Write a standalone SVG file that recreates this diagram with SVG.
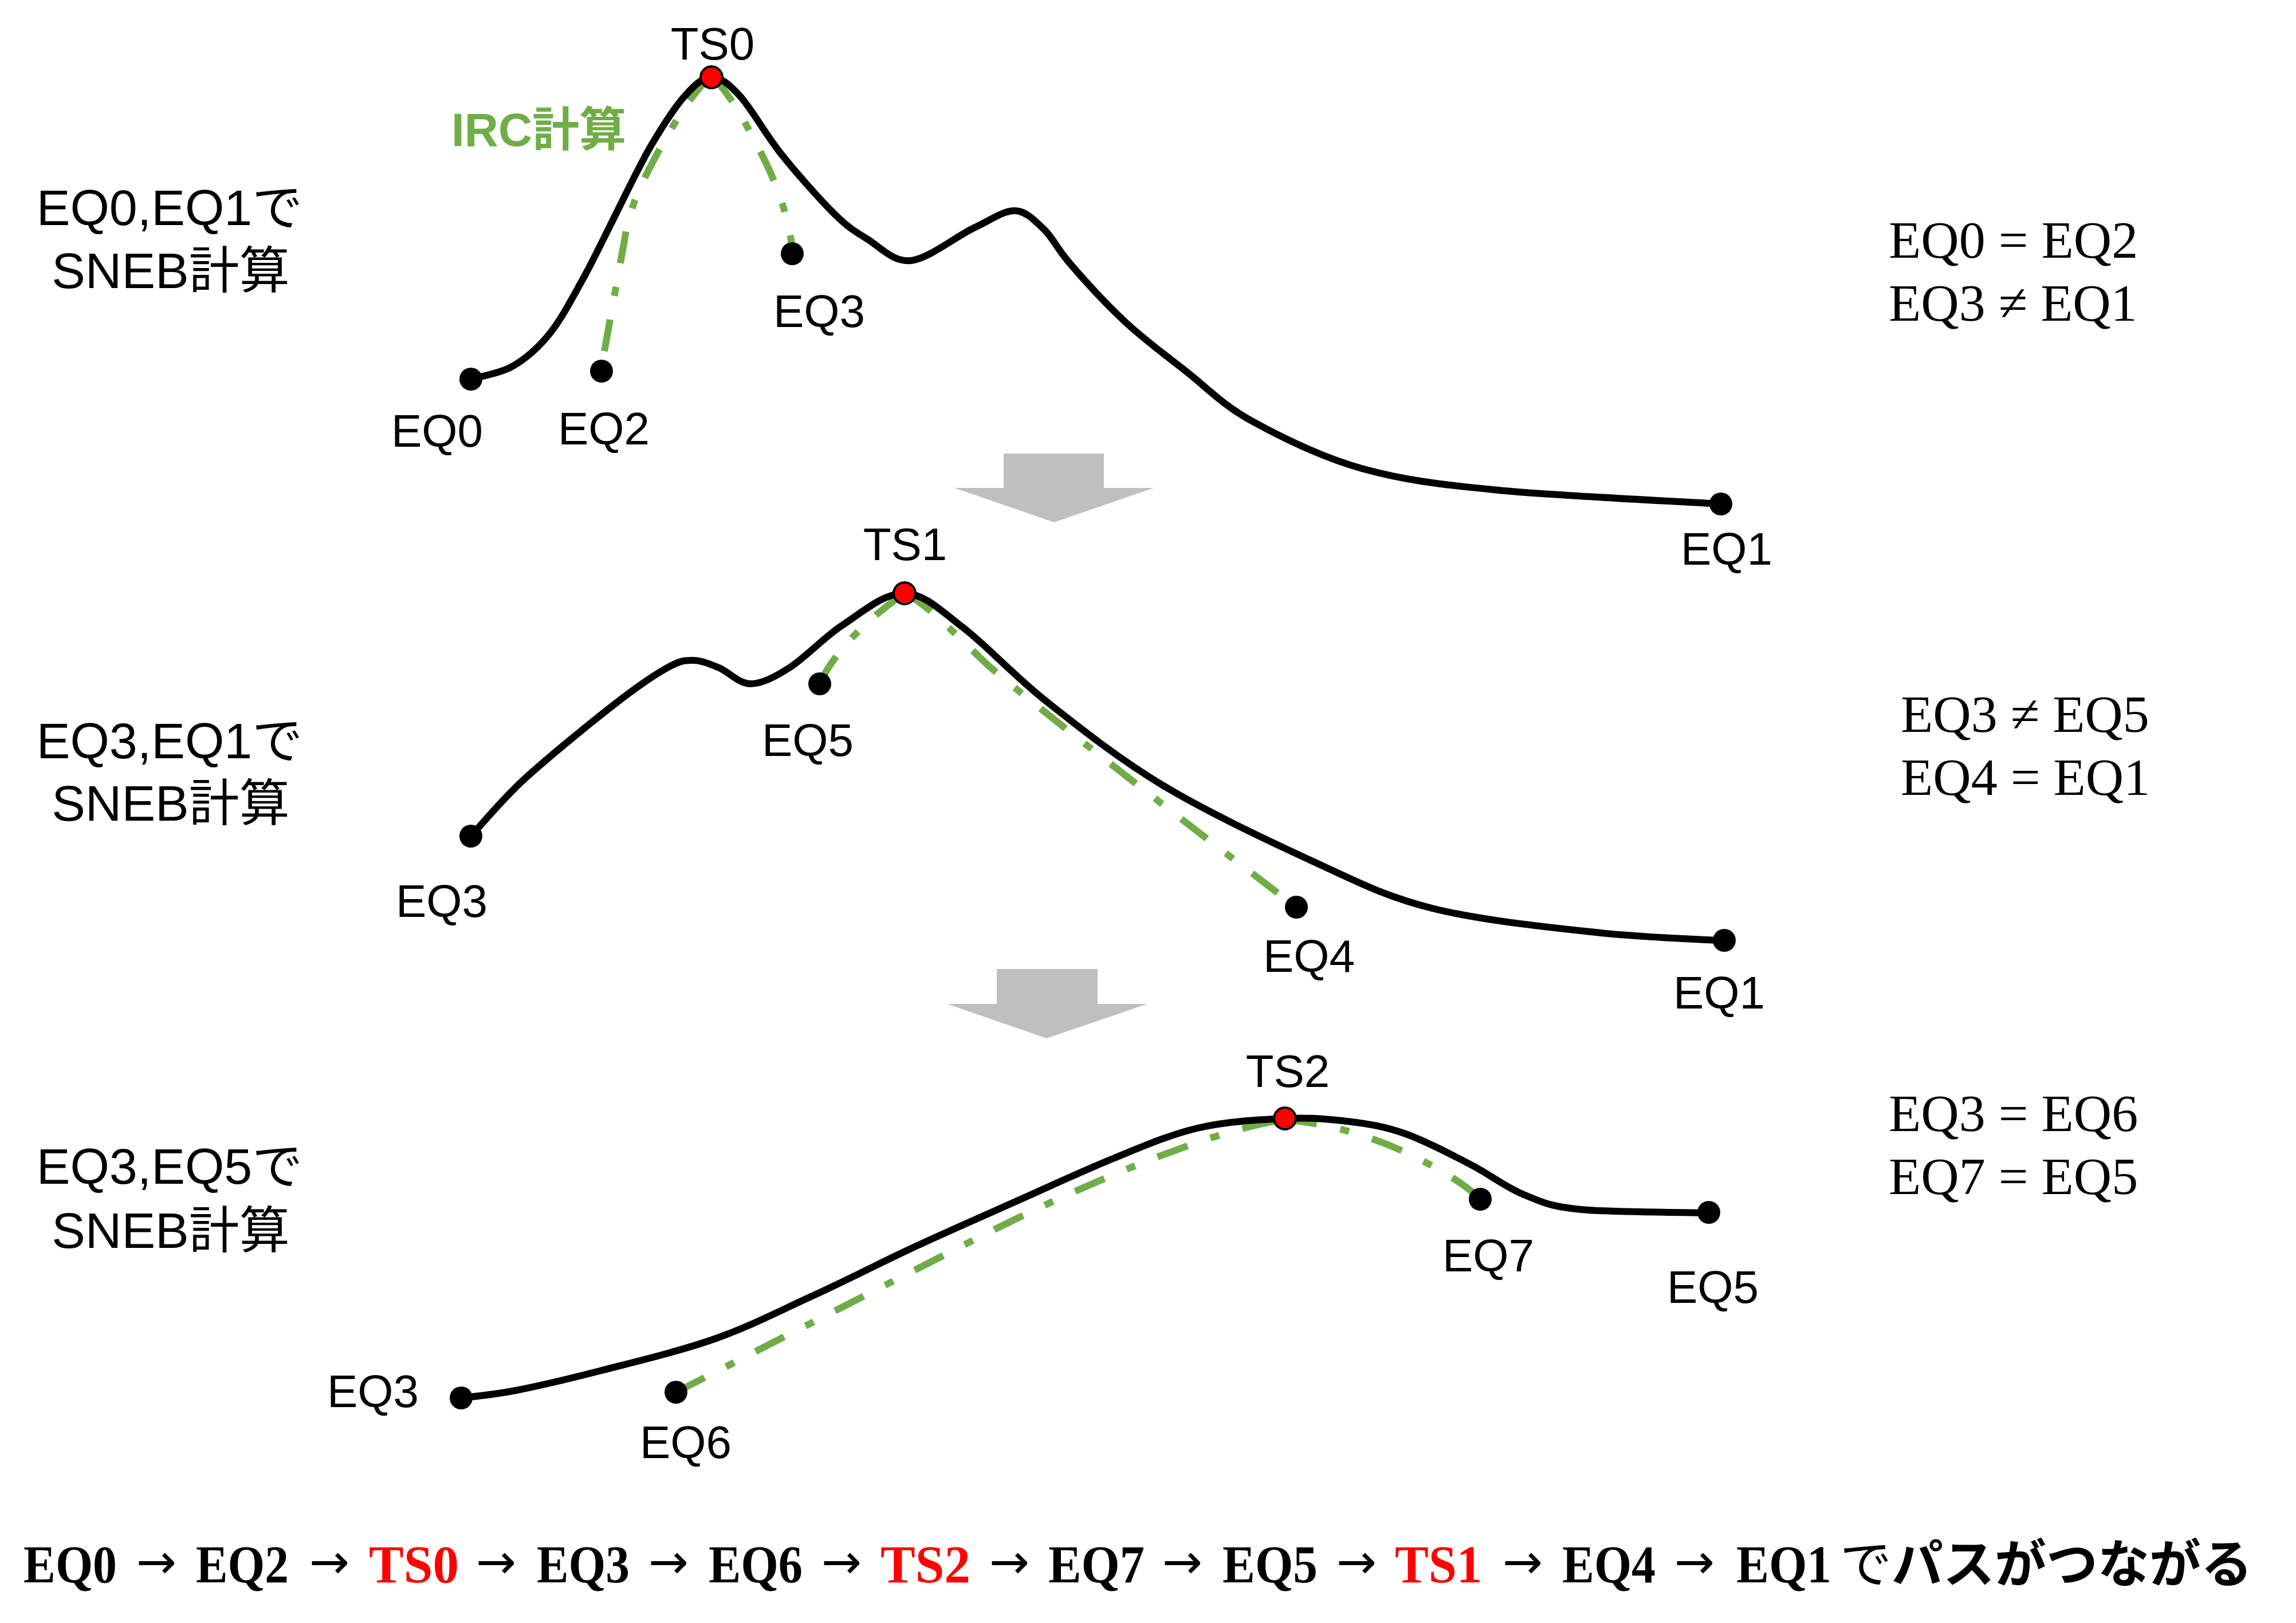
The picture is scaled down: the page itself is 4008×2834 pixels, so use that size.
<svg xmlns="http://www.w3.org/2000/svg" width="4008" height="2834" viewBox="0 0 4008 2834">
<style>
.curve{fill:none;stroke:#000;stroke-width:12;stroke-linecap:round;stroke-linejoin:round}
.irc{fill:none;stroke:#70AD47;stroke-width:12;stroke-dasharray:56 42 16 42}
.eq{fill:#000}
.ts{fill:#FF0000;stroke:#000;stroke-width:4}
.lbl{font-family:"Liberation Sans","Noto Sans CJK JP",Arial,sans-serif;font-size:80px;fill:#000;text-anchor:middle}
.side{font-family:"Liberation Sans","Noto Sans CJK JP",Arial,sans-serif;font-size:88px;fill:#000;text-anchor:middle}
.rel{font-family:"Liberation Serif","Times New Roman",serif;font-size:92px;fill:#000}
.arrow{fill:#BFBFBF}
.path{font-family:"Liberation Serif","Times New Roman",serif;font-size:94px;font-weight:bold;fill:#000}
.to{font-family:"DejaVu Sans",sans-serif;font-size:84px;fill:#000;text-anchor:middle}
.red{fill:#FF0000}
.jp{font-family:"Noto Sans CJK JP",sans-serif;font-size:90px;fill:#000}
</style>
<rect width="4008" height="2834" fill="#fff"/>

<g id="connectors">
  <!-- panel 1 -->
  <path class="irc" d="M1242,135 C1215,150 1170,225 1140,282 C1112,335 1098,370 1090,420 L1052,630"/>
  <path class="irc" d="M1242,135 C1265,150 1300,210 1330,270 C1355,320 1375,370 1384,440"/>
  <path class="curve" d="M822,662 C834,658 871,653 894,640 C917,627 940,607 960,582 C980,557 997,524 1016,490 C1035,456 1052,420 1072,380 C1092,340 1118,285 1139,250 C1160,215 1178,187 1195,168 C1212,149 1226,135 1242,135 C1258,135 1272,146 1292,168 C1312,190 1336,234 1363,268 C1390,302 1430,347 1455,372 C1480,397 1492,404 1515,418 C1537,432 1559,458 1590,455 C1621,452 1670,412 1700,398 C1730,384 1751,368 1771,368 C1791,368 1806,385 1822,400 C1838,415 1843,431 1866,458 C1889,485 1928,528 1962,560 C1996,592 2033,619 2070,648 C2107,677 2134,707 2185,735 C2236,763 2305,798 2377,818 C2449,838 2511,846 2616,856 C2721,866 2939,876 3004,880"/>
  <!-- panel 2 -->
  <path class="irc" d="M1431,1194 C1450,1150 1500,1090 1579,1036"/>
  <path class="irc" d="M1579,1036 C1615,1052 1660,1100 1724,1161 C1800,1228 2100,1460 2263,1584"/>
  <path class="curve" d="M822,1460 C838,1443 876,1396 918,1358 C960,1320 1030,1263 1071,1231 C1112,1199 1140,1180 1163,1167 C1186,1154 1194,1153 1209,1153 C1224,1153 1238,1159 1255,1166 C1272,1173 1290,1194 1310,1194 C1330,1194 1351,1183 1378,1166 C1405,1149 1437,1114 1470,1092 C1504,1070 1543,1035 1579,1036 C1615,1037 1643,1067 1684,1098 C1725,1130 1769,1179 1827,1225 C1885,1271 1953,1325 2031,1372 C2109,1419 2218,1470 2296,1506 C2374,1542 2420,1566 2500,1586 C2580,1606 2691,1618 2776,1627 C2861,1637 2971,1640 3010,1643"/>
  <!-- panel 3 -->
  <path class="irc" d="M1180,2431 L1700,2165 C1850,2088 2100,1975 2243,1955"/>
  <path class="irc" d="M2243,1955 C2320,1962 2400,1985 2470,2020 C2520,2045 2560,2070 2584,2094"/>
  <path class="curve" d="M805,2441 C821,2439 859,2436 900,2428 C941,2420 992,2408 1050,2393 C1108,2378 1188,2359 1250,2337 C1312,2315 1365,2287 1420,2262 C1475,2237 1523,2212 1580,2185 C1637,2158 1704,2129 1764,2102 C1825,2075 1889,2045 1943,2023 C1997,2001 2040,1982 2090,1970 C2140,1958 2199,1955 2243,1953 C2287,1951 2317,1954 2352,1958 C2387,1962 2418,1967 2454,1980 C2490,1993 2536,2017 2570,2035 C2604,2053 2628,2073 2660,2086 C2692,2099 2706,2107 2760,2112 C2814,2117 2946,2117 2983,2118"/>
</g>

<g id="step-arrows">
  <polygon class="arrow" points="1752,792 1927,792 1927,852 2014,852 1840,912 1666,852 1752,852"/>
  <polygon class="arrow" points="1740,1692 1916,1692 1916,1753 2003,1753 1827,1813 1653,1753 1740,1753"/>
</g>

<!-- panel 1 nodes -->
<g id="p1-EQ0"><circle class="eq" cx="822" cy="662" r="20"/><text class="lbl" x="763" y="780">EQ0</text></g>
<g id="p1-EQ2"><circle class="eq" cx="1050" cy="648" r="20"/><text class="lbl" x="1054" y="776">EQ2</text></g>
<g id="p1-EQ3"><circle class="eq" cx="1383" cy="443" r="20"/><text class="lbl" x="1430" y="571">EQ3</text></g>
<g id="p1-EQ1"><circle class="eq" cx="3004" cy="880" r="20"/><text class="lbl" x="3014" y="986">EQ1</text></g>
<g id="p1-TS0"><circle class="ts" cx="1242" cy="135" r="19"/><text class="lbl" x="1244" y="104">TS0</text></g>
<g id="p1-irc"><text x="788" y="255" font-family="'Liberation Sans','Noto Sans CJK JP',Arial,sans-serif" font-size="82" font-weight="bold" fill="#70AD47">IRC計算</text></g>
<g id="p1-label"><text class="side" x="296" y="393">EQ0,EQ1で</text><text class="side" x="298" y="503">SNEB計算</text></g>
<g id="p1-rel"><text class="rel" x="3297" y="450">EQ0 = EQ2</text><text class="rel" x="3297" y="560">EQ3 ≠ EQ1</text></g>

<!-- panel 2 nodes -->
<g id="p2-EQ3"><circle class="eq" cx="822" cy="1460" r="20"/><text class="lbl" x="771" y="1601">EQ3</text></g>
<g id="p2-EQ5"><circle class="eq" cx="1431" cy="1194" r="20"/><text class="lbl" x="1410" y="1320">EQ5</text></g>
<g id="p2-EQ4"><circle class="eq" cx="2263" cy="1584" r="20"/><text class="lbl" x="2285" y="1697">EQ4</text></g>
<g id="p2-EQ1"><circle class="eq" cx="3010" cy="1642" r="20"/><text class="lbl" x="3001" y="1761">EQ1</text></g>
<g id="p2-TS1"><circle class="ts" cx="1579" cy="1036" r="19"/><text class="lbl" x="1580" y="978">TS1</text></g>
<g id="p2-label"><text class="side" x="296" y="1324">EQ3,EQ1で</text><text class="side" x="298" y="1433">SNEB計算</text></g>
<g id="p2-rel"><text class="rel" x="3318" y="1278">EQ3 ≠ EQ5</text><text class="rel" x="3318" y="1388">EQ4 = EQ1</text></g>

<!-- panel 3 nodes -->
<g id="p3-EQ3"><circle class="eq" cx="805" cy="2441" r="20"/><text class="lbl" x="651" y="2457">EQ3</text></g>
<g id="p3-EQ6"><circle class="eq" cx="1180" cy="2431" r="20"/><text class="lbl" x="1197" y="2546">EQ6</text></g>
<g id="p3-EQ7"><circle class="eq" cx="2584" cy="2094" r="20"/><text class="lbl" x="2598" y="2220">EQ7</text></g>
<g id="p3-EQ5"><circle class="eq" cx="2983" cy="2117" r="20"/><text class="lbl" x="2990" y="2275">EQ5</text></g>
<g id="p3-TS2"><circle class="ts" cx="2243" cy="1953" r="19"/><text class="lbl" x="2248" y="1898">TS2</text></g>
<g id="p3-label"><text class="side" x="296" y="2067">EQ3,EQ5で</text><text class="side" x="298" y="2179">SNEB計算</text></g>
<g id="p3-rel"><text class="rel" x="3297" y="1975">EQ3 = EQ6</text><text class="rel" x="3297" y="2085">EQ7 = EQ5</text></g>

<g id="summary">
<text class="path" x="41" y="2763" textLength="163" lengthAdjust="spacingAndGlyphs">EQ0</text>
<text class="to" x="273" y="2756">→</text>
<text class="path" x="342" y="2763" textLength="162" lengthAdjust="spacingAndGlyphs">EQ2</text>
<text class="to" x="575" y="2756">→</text>
<text class="path red" x="644" y="2763" textLength="157" lengthAdjust="spacingAndGlyphs">TS0</text>
<text class="to" x="866" y="2756">→</text>
<text class="path" x="937" y="2763" textLength="162" lengthAdjust="spacingAndGlyphs">EQ3</text>
<text class="to" x="1167" y="2756">→</text>
<text class="path" x="1237" y="2763" textLength="164" lengthAdjust="spacingAndGlyphs">EQ6</text>
<text class="to" x="1469" y="2756">→</text>
<text class="path red" x="1537" y="2763" textLength="157" lengthAdjust="spacingAndGlyphs">TS2</text>
<text class="to" x="1762" y="2756">→</text>
<text class="path" x="1830" y="2763" textLength="168" lengthAdjust="spacingAndGlyphs">EQ7</text>
<text class="to" x="2064" y="2756">→</text>
<text class="path" x="2134" y="2763" textLength="166" lengthAdjust="spacingAndGlyphs">EQ5</text>
<text class="to" x="2368" y="2756">→</text>
<text class="path red" x="2435" y="2763" textLength="152" lengthAdjust="spacingAndGlyphs">TS1</text>
<text class="to" x="2658" y="2756">→</text>
<text class="path" x="2727" y="2763" textLength="163" lengthAdjust="spacingAndGlyphs">EQ4</text>
<text class="to" x="2958" y="2756">→</text>
<text class="path" x="3031" y="2763" textLength="166" lengthAdjust="spacingAndGlyphs">EQ1</text>
<text class="jp" x="3212" y="2763">で<tspan font-weight="bold">パスがつながる</tspan></text>
</g>
</svg>
